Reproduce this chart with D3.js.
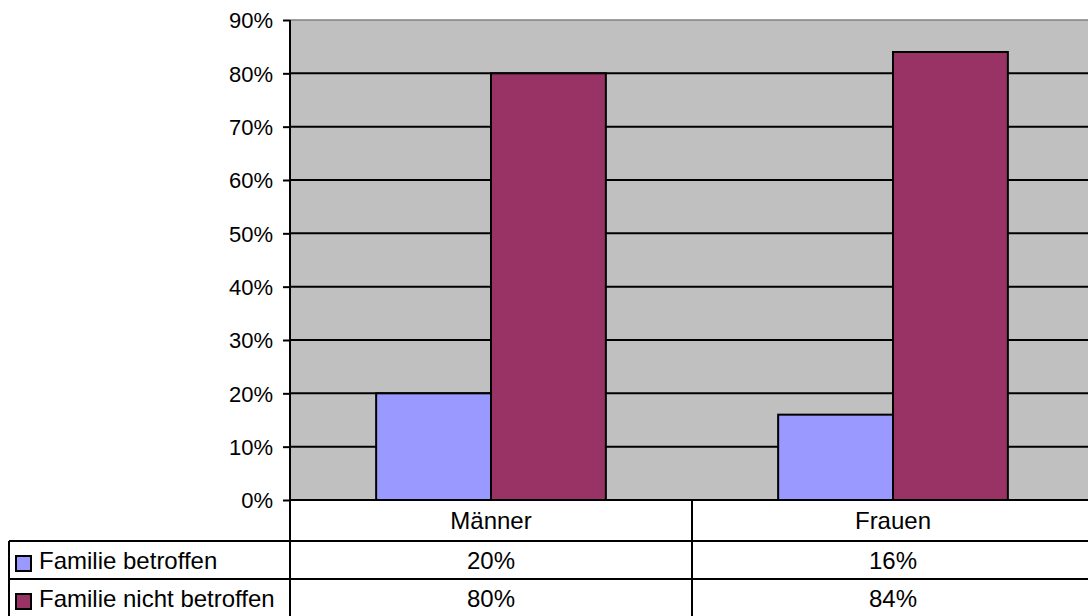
<!DOCTYPE html>
<html>
<head>
<meta charset="utf-8">
<script src="https://cdn.jsdelivr.net/npm/d3@7"></script>
<style>
  html, body { margin: 0; padding: 0; background: #ffffff; }
  svg { display: block; font-family: "Liberation Sans", Arial, sans-serif; }
</style>
</head>
<body>
<svg id="chart" width="1088" height="616"></svg>
<script>
// Categories, series and values (shares)
const categories = ["Männer", "Frauen"];
const seriesNames = ["Familie betroffen", "Familie nicht betroffen"];
const seriesColors = ["#9999FF", "#993366"];
const betroffen = [0.20, 0.16];
const nichtBetroffen = [0.80, 0.84];
const yTicks = [0, 0.1, 0.2, 0.3, 0.4, 0.5, 0.6, 0.7, 0.8, 0.9];

const seriesValues = [betroffen, nichtBetroffen];

const svg = d3.select("#chart");

// Plot area frame
const plot = { left: 290, right: 1094, top: 20, bottom: 500 };
const tableRows = [500, 541, 579, 617];
const tableLeft = 9;

const x0 = d3.scaleBand()
  .domain(categories)
  .range([plot.left, plot.right])
  .paddingInner(0)
  .paddingOuter(0);

// Excel-style gap width of 150% of a bar
const gapRatio = 1.5;
const barW = x0.bandwidth() / (seriesNames.length + gapRatio);
const x1 = d3.scaleBand()
  .domain(seriesNames)
  .range([gapRatio / 2 * barW, gapRatio / 2 * barW + seriesNames.length * barW]);

const y = d3.scaleLinear()
  .domain([0, 0.9])
  .range([plot.bottom, plot.top]);

// Gray plot background
svg.append("rect")
  .attr("x", plot.left)
  .attr("y", plot.top)
  .attr("width", plot.right - plot.left)
  .attr("height", plot.bottom - plot.top)
  .attr("fill", "#C0C0C0");

// Top border of plot area
svg.append("line")
  .attr("x1", plot.left).attr("x2", plot.right)
  .attr("y1", plot.top).attr("y2", plot.top)
  .attr("stroke", "#808080").attr("stroke-width", 1.5);

// Horizontal gridlines
svg.append("g")
  .selectAll("line")
  .data(yTicks.filter(t => t > 0 && t < 0.9))
  .join("line")
  .attr("x1", plot.left).attr("x2", plot.right)
  .attr("y1", d => y(d)).attr("y2", d => y(d))
  .attr("stroke", "#000").attr("stroke-width", 2);

// Bars
categories.forEach((cat, ci) => {
  svg.append("g")
    .selectAll("rect")
    .data(seriesNames.map((s, si) => ({ s, si, v: seriesValues[si][ci] })))
    .join("rect")
    .attr("x", d => x0(cat) + x1(d.s))
    .attr("y", d => y(d.v))
    .attr("width", x1.bandwidth())
    .attr("height", d => y(0) - y(d.v))
    .attr("fill", d => seriesColors[d.si])
    .attr("stroke", "#000")
    .attr("stroke-width", 2);
});

// Y axis
const yAxis = d3.axisLeft(y)
  .tickValues(yTicks)
  .tickFormat(d3.format(".0%"))
  .tickSize(7)
  .tickPadding(10)
  .tickSizeOuter(0);

const gy = svg.append("g")
  .attr("transform", `translate(${plot.left},0)`)
  .call(yAxis);
gy.select(".domain").remove();
gy.selectAll(".tick line").attr("stroke", "#000").attr("stroke-width", 2);
gy.selectAll(".tick text")
  .attr("font-size", 22)
  .attr("font-family", "Liberation Sans, Arial, sans-serif")
  .attr("fill", "#000")
  .attr("dy", "0.36em");

// Data table beneath the plot
const table = svg.append("g");

// Horizontal table lines
table.append("line")
  .attr("x1", plot.left).attr("x2", plot.right)
  .attr("y1", tableRows[0]).attr("y2", tableRows[0])
  .attr("stroke", "#000").attr("stroke-width", 2);
table.selectAll("line.row")
  .data(tableRows.slice(1))
  .join("line")
  .attr("class", "row")
  .attr("x1", tableLeft).attr("x2", plot.right)
  .attr("y1", d => d).attr("y2", d => d)
  .attr("stroke", "#000").attr("stroke-width", 2);

// Vertical lines: value axis, table left edge, category dividers
svg.append("line")
  .attr("x1", plot.left).attr("x2", plot.left)
  .attr("y1", plot.top).attr("y2", tableRows[3])
  .attr("stroke", "#000").attr("stroke-width", 2);
table.append("line")
  .attr("x1", tableLeft).attr("x2", tableLeft)
  .attr("y1", tableRows[1]).attr("y2", tableRows[3])
  .attr("stroke", "#000").attr("stroke-width", 2);
table.selectAll("line.div")
  .data(categories.slice(1))
  .join("line")
  .attr("class", "div")
  .attr("x1", d => x0(d)).attr("x2", d => x0(d))
  .attr("y1", tableRows[0]).attr("y2", tableRows[3])
  .attr("stroke", "#000").attr("stroke-width", 2);
table.append("line")
  .attr("x1", plot.right).attr("x2", plot.right)
  .attr("y1", plot.top).attr("y2", tableRows[3])
  .attr("stroke", "#000").attr("stroke-width", 2);

const fs = 24;
const rowMid = i => (tableRows[i] + tableRows[i + 1]) / 2;

// Category header row
table.selectAll("text.cat")
  .data(categories)
  .join("text")
  .attr("class", "cat")
  .attr("x", d => x0(d) + x0.bandwidth() / 2)
  .attr("y", rowMid(0))
  .attr("dy", "0.36em")
  .attr("text-anchor", "middle")
  .attr("font-size", fs)
  .attr("fill", "#000")
  .text(d => d);

// Series rows: legend key, name and values
seriesNames.forEach((s, si) => {
  const cy = rowMid(si + 1);
  table.append("rect")
    .attr("x", 16)
    .attr("y", cy - 4)
    .attr("width", 15)
    .attr("height", 15)
    .attr("fill", seriesColors[si])
    .attr("stroke", "#000")
    .attr("stroke-width", 2);
  table.append("text")
    .attr("x", 39)
    .attr("y", cy)
    .attr("dy", "0.36em")
    .attr("font-size", fs)
    .attr("fill", "#000")
    .text(s);
  table.selectAll(null)
    .data(categories.map((c, ci) => ({ c, v: seriesValues[si][ci] })))
    .join("text")
    .attr("x", d => x0(d.c) + x0.bandwidth() / 2)
    .attr("y", cy)
    .attr("dy", "0.36em")
    .attr("text-anchor", "middle")
    .attr("font-size", fs)
    .attr("fill", "#000")
    .text(d => d3.format(".0%")(d.v));
});
</script>
</body>
</html>
